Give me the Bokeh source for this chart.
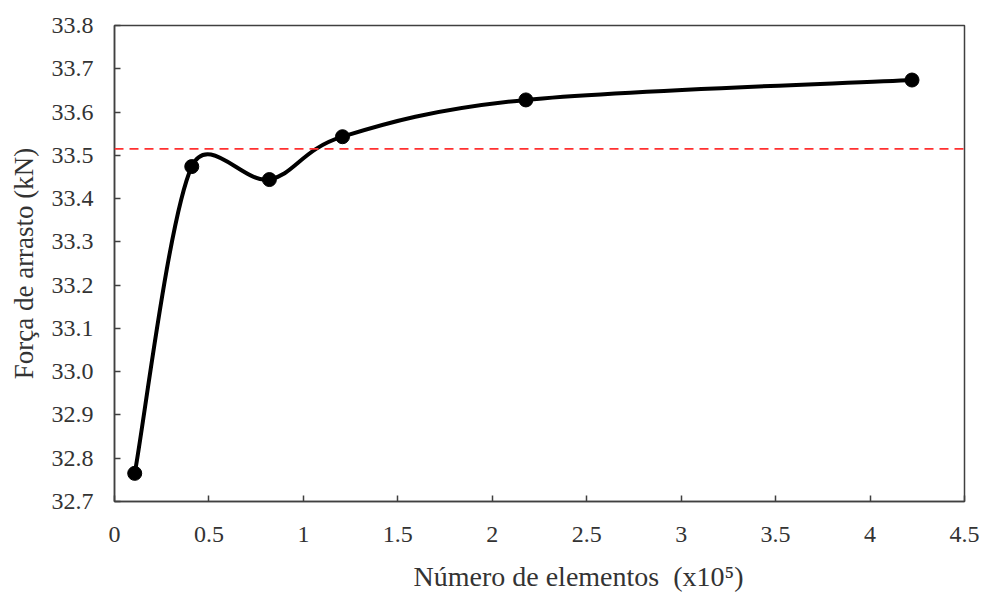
import numpy as np
from bokeh.plotting import figure
from bokeh.models import Span, FixedTicker, Range1d, Title, LinearAxis
from bokeh.embed import file_html
from bokeh.resources import INLINE

# data
n_elementos = [0.107, 0.409, 0.82, 1.207, 2.178, 4.222]   # x10^5
forca = [32.765, 33.474, 33.444, 33.543, 33.628, 33.674]  # kN
referencia = 33.515

xtick_vals = [0, 0.5, 1, 1.5, 2, 2.5, 3, 3.5, 4, 4.5]
xtick_labels = ["0", "0.5", "1", "1.5", "2", "2.5", "3", "3.5", "4", "4.5"]
ytick_vals = [32.7, 32.8, 32.9, 33.0, 33.1, 33.2, 33.3, 33.4, 33.5, 33.6, 33.7, 33.8]
ytick_labels = ["32.7", "32.8", "32.9", "33.0", "33.1", "33.2", "33.3", "33.4",
                "33.5", "33.6", "33.7", "33.8"]

x_label = "Número de elementos\u00a0\u00a0(x10⁵)"
y_label = "Força de arrasto (kN)"

FONT = "Liberation Serif"
TXT = "#333333"
X0, X1, Y0, Y1 = 0, 4.5, 32.7, 33.8
W, H = 985, 592
BL, BR, BT, BB = 114, 21, 25, 91

p = figure(width=W, height=H, output_backend="svg", toolbar_location=None,
           x_range=Range1d(X0, X1), y_range=Range1d(Y0, Y1),
           min_border_left=BL, min_border_right=BR, min_border_top=BT,
           min_border_bottom=BB)
p.background_fill_color = "white"
p.border_fill_color = "white"
p.grid.visible = False
p.outline_line_color = "#404040"
p.outline_line_width = 1.5

# smooth curve: Bezier segments in the style of spreadsheet "smoothed lines"
# (tangent parallel to neighbours, handle length clamped to half the segment)
sx = (W - BL - BR) / (X1 - X0)
sy = (H - BT - BB) / (Y1 - Y0)
P = np.column_stack([n_elementos, forca])
Pext = np.vstack([P[0], P, P[-1]])


def dist(u, v):
    return np.hypot((u[0] - v[0]) * sx, (u[1] - v[1]) * sy)


x0s, y0s, x1s, y1s, cx0, cy0, cx1, cy1 = ([] for _ in range(8))
for i in range(len(P) - 1):
    a, b, c, d = Pext[i], Pext[i + 1], Pext[i + 2], Pext[i + 3]
    d12 = dist(b, c)
    dac = dist(a, c)
    dbd = dist(b, d)
    f1 = min(1 / 6, d12 / 2 / dac) if dac > 0 else 1 / 6
    f2 = min(1 / 6, d12 / 2 / dbd) if dbd > 0 else 1 / 6
    c1 = b + (c - a) * f1
    c2 = c - (d - b) * f2
    x0s.append(b[0]); y0s.append(b[1]); x1s.append(c[0]); y1s.append(c[1])
    cx0.append(c1[0]); cy0.append(c1[1]); cx1.append(c2[0]); cy1.append(c2[1])
p.bezier(x0=x0s, y0=y0s, x1=x1s, y1=y1s, cx0=cx0, cy0=cy0, cx1=cx1, cy1=cy1,
         line_color="black", line_width=4)
p.scatter(n_elementos, forca, size=14, color="black")

p.add_layout(Span(location=referencia, dimension="width", line_color="#ff3030",
                  line_width=1.8, line_dash="9 6"))

for ax in (p.xaxis[0], p.yaxis[0]):
    ax.axis_line_color = "#404040"
    ax.axis_line_width = 1.5
    ax.major_tick_line_color = "#404040"
    ax.major_tick_line_width = 1.5
    ax.major_tick_in = 6
    ax.major_tick_out = 0
    ax.minor_tick_line_color = None
    ax.major_label_text_font = FONT
    ax.major_label_text_font_size = "24px"
    ax.major_label_text_color = TXT
    ax.axis_label_text_font = FONT
    ax.axis_label_text_font_size = "27px"
    ax.axis_label_text_font_style = "normal"
    ax.axis_label_text_color = TXT

p.xaxis.ticker = FixedTicker(ticks=xtick_vals)
p.xaxis.major_label_overrides = dict(zip(xtick_vals, xtick_labels))
p.yaxis.ticker = FixedTicker(ticks=ytick_vals)
p.yaxis.major_label_overrides = dict(zip(ytick_vals, ytick_labels))
p.xaxis.major_label_standoff = 25
p.yaxis.major_label_standoff = 21
p.yaxis.axis_label = y_label
p.yaxis.axis_label_standoff = 10

# blank spacer axis to push the x title down to the bottom edge
spacer = LinearAxis(ticker=FixedTicker(ticks=[]), axis_line_color=None,
                    major_tick_line_color=None, minor_tick_line_color=None,
                    major_tick_in=0, major_tick_out=0, minor_tick_in=0,
                    minor_tick_out=0, major_label_standoff=0,
                    axis_label="\u00a0", axis_label_standoff=0,
                    axis_label_text_font_size="10px", axis_label_text_alpha=0)
p.add_layout(spacer, "below")

# x-axis title, slightly right of centre at the bottom, as in the original
p.add_layout(Title(text=x_label, align="left", offset=299, vertical_align="bottom",
                   standoff=0, text_font=FONT, text_font_size="28px",
                   text_font_style="normal", text_color=TXT), "below")

open("out.html", "w").write(file_html(p, INLINE))
